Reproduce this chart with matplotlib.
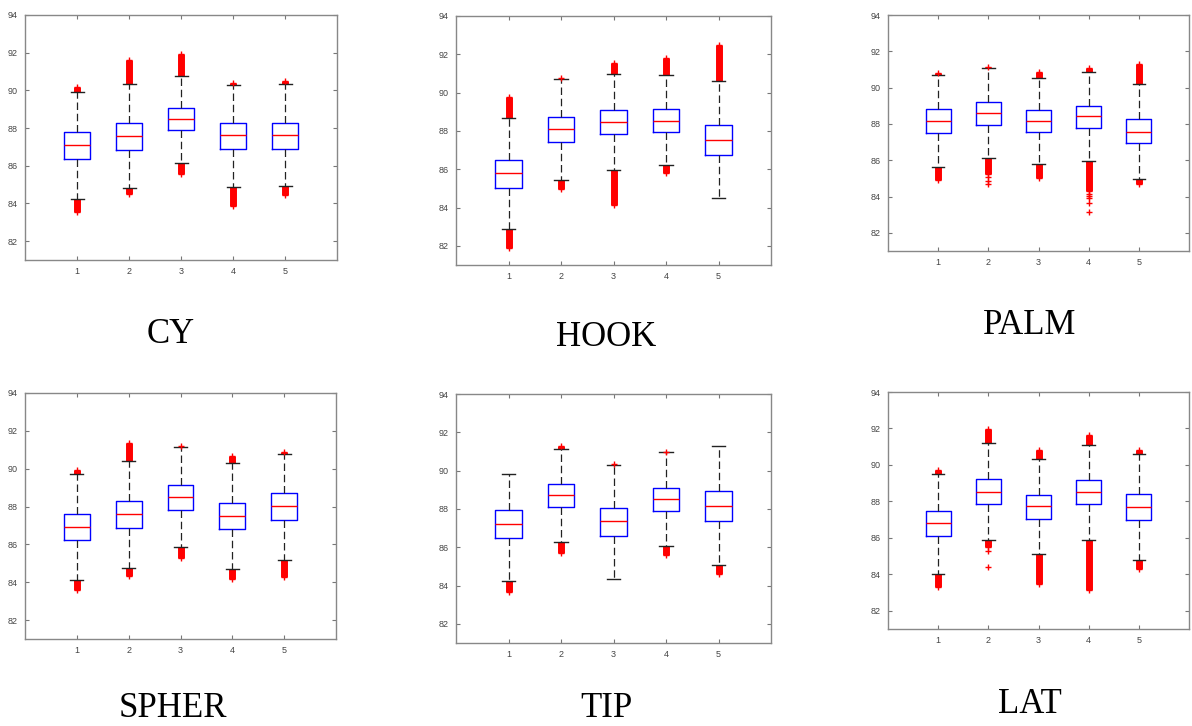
import matplotlib
matplotlib.use('Agg')
import matplotlib.pyplot as plt

# one entry per panel, five groups each
titles = ['CY', 'HOOK', 'PALM', 'SPHER', 'TIP', 'LAT']
groups = [1, 2, 3, 4, 5]

medians = [
    [87.12, 87.58, 88.47, 87.61, 87.61],
    [85.78, 88.10, 88.45, 88.54, 87.50],
    [88.15, 88.59, 88.18, 88.42, 87.58],
    [86.92, 87.61, 88.49, 87.51, 88.02],
    [87.23, 88.75, 87.35, 88.52, 88.17],
    [86.81, 88.54, 87.74, 88.54, 87.70],
]
q1 = [
    [86.36, 86.86, 87.89, 86.91, 86.91],
    [85.04, 87.41, 87.83, 87.95, 86.75],
    [87.51, 87.95, 87.56, 87.78, 86.96],
    [86.24, 86.87, 87.82, 86.80, 87.28],
    [86.46, 88.10, 86.57, 87.90, 87.37],
    [86.10, 87.86, 87.04, 87.85, 86.99],
]
q3 = [
    [87.79, 88.26, 89.04, 88.26, 88.28],
    [86.49, 88.73, 89.08, 89.14, 88.30],
    [88.81, 89.21, 88.77, 89.01, 88.27],
    [87.63, 88.28, 89.16, 88.21, 88.69],
    [87.96, 89.31, 88.07, 89.10, 88.94],
    [87.45, 89.21, 88.34, 89.16, 88.41],
]
whisker_lo = [
    [84.23, 84.83, 86.17, 84.88, 84.92],
    [82.87, 85.42, 85.94, 86.21, 84.48],
    [85.62, 86.10, 85.79, 85.95, 84.95],
    [84.14, 84.77, 85.85, 84.70, 85.16],
    [84.23, 86.26, 84.35, 86.08, 85.09],
    [84.04, 85.90, 85.11, 85.90, 84.80],
]
whisker_hi = [
    [89.90, 90.32, 90.76, 90.29, 90.32],
    [88.69, 90.72, 90.97, 90.90, 90.60],
    [90.69, 91.07, 90.52, 90.87, 90.21],
    [89.71, 90.42, 91.14, 90.31, 90.79],
    [89.83, 91.14, 90.28, 90.95, 91.26],
    [89.48, 91.20, 90.30, 91.09, 90.61],
]
# extent of the dense outlier runs (None = no run)
outlier_top = [
    [90.18, 91.62, 91.94, 90.39, 90.52],
    [89.75, None, 91.57, 91.83, 92.47],
    [90.82, 91.16, 90.87, 91.07, 91.31],
    [89.94, 91.34, None, 90.68, 90.88],
    [None, 91.30, None, None, None],
    [89.74, 91.98, 90.83, 91.65, 90.80],
]
outlier_bottom = [
    [83.57, 84.52, 85.55, 83.88, 84.46],
    [81.88, 84.98, 84.12, 85.82, None],
    [84.89, 85.22, 85.04, 84.31, 84.71],
    [83.61, 84.31, 85.27, 84.17, 84.28],
    [83.66, 85.70, None, 85.58, 84.60],
    [83.33, 85.50, 83.49, 83.15, 84.28],
]
# isolated outliers: (group, value)
single_outliers = [
    [],
    [(2, 90.75)],
    [(2, 85.05), (2, 84.85), (2, 84.67), (4, 84.16), (4, 84.03), (4, 83.90),
     (4, 83.67), (4, 83.17)],
    [(3, 91.19)],
    [(3, 90.32), (4, 90.98)],
    [(2, 85.28), (2, 84.40)],
]

# axes rectangles in figure pixels: left, right, top, bottom
panel_px = [(25, 337, 15, 260), (456, 771, 16, 265), (888, 1189, 15, 251),
            (25, 336, 393, 639), (456, 771, 394, 643), (888, 1189, 392, 629)]
# caption centre x and baseline y in pixels
caption_px = [(171, 343), (606, 346), (1030, 334), (173, 717), (606, 717), (1030, 713)]

W, H = 1192, 726
fig = plt.figure(figsize=(W / 100, H / 100), dpi=100)

for i in range(6):
    l, r, t, b = panel_px[i]
    ax = fig.add_axes([l / W, 1 - b / H, (r - l) / W, (b - t) / H])

    stats = []
    for j in range(5):
        stats.append({'med': medians[i][j], 'q1': q1[i][j], 'q3': q3[i][j],
                      'whislo': whisker_lo[i][j], 'whishi': whisker_hi[i][j],
                      'fliers': []})
    ax.bxp(stats, positions=groups, widths=0.5, showfliers=False,
           boxprops=dict(color='#0000ff', lw=1.0),
           medianprops=dict(color='#ff0000', lw=1.0),
           whiskerprops=dict(color='#222222', lw=0.9, linestyle=(0, (6, 3))),
           capprops=dict(color='#222222', lw=1.0), capwidths=0.25,
           manage_ticks=False)

    for j in range(5):
        x = groups[j]
        top = outlier_top[i][j]
        if top is not None:
            ax.vlines(x, whisker_hi[i][j], top, color='#ff0000', lw=5, zorder=1)
            ax.plot([x], [top], marker='+', color='#ff0000', ms=4.5, mew=1, ls='none')
        bot = outlier_bottom[i][j]
        if bot is not None:
            ax.vlines(x, bot, whisker_lo[i][j], color='#ff0000', lw=5, zorder=1)
            ax.plot([x], [bot], marker='+', color='#ff0000', ms=4.5, mew=1, ls='none')
    for g, v in single_outliers[i]:
        ax.plot([g], [v], marker='+', color='#ff0000', ms=4.5, mew=1, ls='none')

    ax.set_xlim(0, 6)
    ax.set_ylim(81, 94)
    ax.set_xticks(groups)
    ax.set_yticks([82, 84, 86, 88, 90, 92, 94])
    ax.tick_params(direction='in', length=3, width=0.8, top=True, right=True,
                   labelsize=6.5, colors='#777777', labelcolor='#444444', pad=5)
    for lab in ax.get_xticklabels() + ax.get_yticklabels():
        lab.set_family('Liberation Sans')
    for s in ax.spines.values():
        s.set_color('#888888')
        s.set_linewidth(1.0)

    cx, cy = caption_px[i]
    fig.text(cx / W, 1 - cy / H, titles[i], ha='center', va='baseline',
             family='Liberation Serif', fontsize=25, color='black')

fig.savefig('out.png', dpi=100)
